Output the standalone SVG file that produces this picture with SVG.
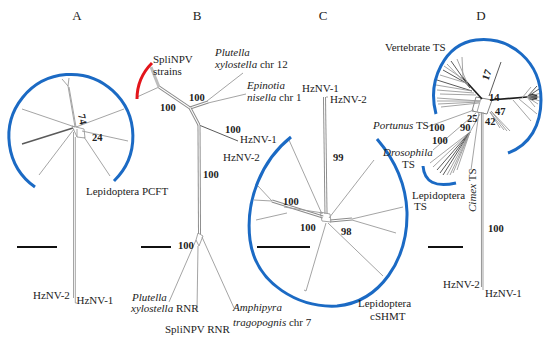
<svg xmlns="http://www.w3.org/2000/svg" width="550" height="344" viewBox="0 0 550 344">
<style>
text{font-family:"Liberation Serif","Times New Roman",serif;font-size:11px;fill:#222}
.ttl{font-size:13px}
.b{font-weight:bold;font-size:10.5px}
.i{font-style:italic}
.t{stroke:#9a9a9a;stroke-width:0.9;fill:none}
.d{stroke:#5a5a5a;stroke-width:1;fill:none}
.k{stroke:#1e1e1e;stroke-width:1.7;fill:none}
.o{stroke:#8a8a8a;stroke-width:3;fill:none}
.oi{stroke:#fff;stroke-width:1.1;fill:none}
.lg{stroke:#bdbdbd;stroke-width:3;fill:none}
.blue{stroke:#1b6ac4;stroke-width:3;fill:none}
.red{stroke:#e3151b;stroke-width:3;fill:none}
.sb{stroke:#111;stroke-width:2}
</style>
<rect width="550" height="344" fill="#fff"/>

<g id="connectors">
<!-- Panel A -->
<g id="treeA">
<line class="t" x1="75" y1="127" x2="68" y2="86"/>
<line class="t" x1="68" y1="86" x2="62" y2="79"/>
<line class="t" x1="68" y1="86" x2="69" y2="78"/>
<line class="t" x1="76" y1="127" x2="69" y2="87"/>
<line class="t" x1="75" y1="127" x2="22" y2="109"/>
<line class="t" x1="76" y1="127" x2="124" y2="109"/>
<line class="d" x1="73" y1="128" x2="22" y2="144" style="stroke-width:1.4"/>
<line class="t" x1="82" y1="131" x2="128" y2="141"/>
<line class="t" x1="74" y1="129" x2="39" y2="175"/>
<line class="t" x1="84" y1="137" x2="110" y2="176"/>
<polygon class="t" points="72,126 84,129 85,138 77,137"/>
<line class="t" x1="77" y1="129" x2="77" y2="137"/>
<line class="t" x1="73.5" y1="132" x2="73.5" y2="298"/>
<line class="t" x1="75.3" y1="137" x2="75.3" y2="303"/>
<line class="t" x1="75.3" y1="303" x2="77" y2="303"/>
</g>
<!-- Panel B -->
<g id="treeB">
<line class="t" x1="137" y1="97" x2="159" y2="87"/>
<line class="lg" x1="159" y1="87" x2="151" y2="67"/>
<line class="o" x1="159" y1="87" x2="190" y2="108"/>
<line class="oi" x1="159" y1="87" x2="190" y2="108"/>
<line class="o" x1="190" y1="108" x2="208" y2="102"/>
<line class="oi" x1="190" y1="108" x2="208" y2="102"/>
<line class="t" x1="207" y1="101" x2="243" y2="73"/>
<line class="t" x1="208" y1="103" x2="246" y2="94"/>
<line class="o" x1="190" y1="108" x2="199" y2="125"/>
<line class="oi" x1="190" y1="108" x2="199" y2="125"/>
<line class="d" x1="199" y1="125" x2="238" y2="141"/>
<line class="o" x1="199" y1="125" x2="199.5" y2="234"/>
<line class="oi" x1="199" y1="125" x2="199.5" y2="234"/>
<polyline class="t" points="198,233 203,236 199,246 196,240 198,233"/>
<line class="t" x1="196" y1="240" x2="169" y2="302"/>
<line class="t" x1="198" y1="246" x2="197" y2="310"/>
<line class="t" x1="202" y1="237" x2="234" y2="308"/>
</g>
<!-- Panel C -->
<g id="treeC">
<line class="o" x1="324.5" y1="97" x2="326" y2="214"/>
<line class="oi" x1="324.5" y1="97" x2="326" y2="214"/>
<line class="t" x1="326" y1="97" x2="328" y2="97"/>
<line class="t" x1="289" y1="140" x2="322" y2="214"/>
<line class="t" x1="374" y1="160" x2="329" y2="218"/>
<line class="o" x1="330" y1="221" x2="352" y2="219"/>
<line class="oi" x1="330" y1="221" x2="352" y2="219"/>
<line class="t" x1="352" y1="219" x2="403" y2="207"/>
<line class="t" x1="352" y1="220" x2="396" y2="233"/>
<line class="t" x1="328" y1="223" x2="383" y2="276"/>
<line class="t" x1="326" y1="223" x2="306" y2="291"/>
<line class="t" x1="306" y1="291" x2="304" y2="290"/>
<line class="o" x1="272" y1="201" x2="323" y2="217"/>
<line class="oi" x1="272" y1="201" x2="323" y2="217"/>
<line class="t" x1="284" y1="207" x2="323" y2="213"/>
<line class="t" x1="272" y1="201" x2="258" y2="186"/>
<line class="t" x1="272" y1="201" x2="254" y2="200"/>
<line class="t" x1="287" y1="213" x2="256" y2="220"/>
<polygon class="t" points="320,212 330,214 331,222 322,221"/>
</g>
<!-- Panel D -->
<g id="treeD">
<polygon class="t" points="476,97 492,100 487,114 472,111" style="stroke:#777"/>
<line class="t" x1="481" y1="98" x2="477" y2="112"/>
<line class="k" x1="482" y1="99" x2="462" y2="77"/>
<line class="t" x1="470" y1="88" x2="447" y2="64"/>
<line class="d" x1="470" y1="88" x2="451" y2="61"/>
<line class="t" x1="468" y1="85" x2="457" y2="59"/>
<line class="t" x1="463" y1="78" x2="462" y2="57"/>
<line class="d" x1="466" y1="83" x2="443" y2="70"/>
<line class="t" x1="466" y1="83" x2="440" y2="75"/>
<line class="t" x1="463" y1="79" x2="444" y2="66"/>
<line class="d" x1="472" y1="91" x2="437" y2="80"/>
<line class="t" x1="472" y1="91" x2="436" y2="85"/>
<line class="t" x1="474" y1="93" x2="437" y2="90"/>
<line class="t" x1="476" y1="95" x2="440" y2="94"/>
<line class="t" x1="480" y1="101" x2="437" y2="98"/>
<line class="t" x1="480" y1="101" x2="437" y2="101"/>
<line class="t" x1="479" y1="102" x2="438" y2="104"/>
<line class="t" x1="479" y1="103" x2="441" y2="107"/>
<line class="d" x1="489" y1="96" x2="501" y2="62"/>
<line class="k" x1="490" y1="100" x2="527" y2="97"/>
<ellipse cx="533" cy="97" rx="4.5" ry="3.2" fill="#333"/>
<line class="d" x1="527" y1="97" x2="537" y2="86"/>
<line class="d" x1="527" y1="97" x2="539" y2="89"/>
<line class="t" x1="527" y1="97" x2="541" y2="93"/>
<line class="t" x1="527" y1="97" x2="541" y2="97"/>
<line class="t" x1="527" y1="97" x2="540" y2="101"/>
<line class="t" x1="527" y1="97" x2="538" y2="104"/>
<line class="t" x1="527" y1="97" x2="535" y2="107"/>
<line class="t" x1="522" y1="98" x2="531" y2="87"/>
<line class="t" x1="519" y1="99" x2="537" y2="114"/>
<line class="t" x1="513" y1="100" x2="531" y2="121"/>
<line class="t" x1="490" y1="112" x2="500" y2="128"/>
<line class="t" x1="490" y1="112" x2="504" y2="130"/>
<line class="t" x1="491" y1="111" x2="507" y2="131"/>
<line class="t" x1="491" y1="111" x2="510" y2="131"/>
<line class="t" x1="474" y1="110" x2="427" y2="127"/>
<line class="t" x1="476" y1="113" x2="433" y2="150"/>
<line class="t" x1="480" y1="114" x2="470" y2="132"/>
<line class="t" x1="470" y1="132" x2="430" y2="163"/>
<line class="t" x1="470" y1="132" x2="433" y2="167"/>
<line class="d" x1="470" y1="132" x2="437" y2="170"/>
<line class="d" x1="470" y1="132" x2="440" y2="173"/>
<line class="d" x1="470" y1="132" x2="443" y2="175"/>
<line class="t" x1="470" y1="132" x2="447" y2="175"/>
<line class="t" x1="470" y1="132" x2="450" y2="175"/>
<line class="t" x1="470" y1="132" x2="453" y2="173"/>
<line class="t" x1="470" y1="132" x2="457" y2="170"/>
<line class="t" x1="479" y1="112" x2="471" y2="170"/>
<line class="t" x1="481.5" y1="112" x2="481.5" y2="287" style="stroke-width:1.1"/>
<line class="t" x1="483" y1="112" x2="483" y2="290"/>
</g>
</g>

<g id="groups">
<path id="arcA" class="blue" d="M35,187 A62,62 0 1 1 114,181"/>
<path id="arcB" class="red" d="M152,63 Q137,78 137,99"/>
<path id="arcC" class="blue" d="M291,137 C262,160 245,200 250,240 C256,285 300,308 337,306 C380,302 408,260 407,212 C406,185 395,160 377,139"/>
<path id="arcD" class="blue" d="M436,114 C427,80 445,44 476,40 C511,36 541,62 541,100 C541,125 530,145 508,153"/>
<path id="arcD2" class="blue" d="M423,166 Q425,190 456,183"/>
</g>

<g id="scalebars">
<line class="sb" x1="17" y1="247" x2="57" y2="247"/>
<line class="sb" x1="141" y1="247" x2="171" y2="247"/>
<line class="sb" x1="257" y1="247" x2="310" y2="247"/>
<line class="sb" x1="428" y1="247" x2="463" y2="247"/>
</g>

<g id="panelA">
<text class="ttl" x="77" y="20" text-anchor="middle">A</text>
<g id="labA74"><text class="b" transform="translate(79,120) rotate(78)" text-anchor="middle">74</text></g>
<g id="labA24"><text class="b" x="92" y="140.5">24</text></g>
<g id="nodeA-PCFT"><text x="86" y="195">Lepidoptera PCFT</text></g>
<g id="nodeA-HzNV2"><text x="33" y="298.5">HzNV-2</text></g>
<g id="nodeA-HzNV1"><text x="76.5" y="304">HzNV-1</text></g>
</g>

<g id="panelB">
<text class="ttl" x="197" y="20" text-anchor="middle">B</text>
<g id="nodeB-SpliNPV"><text x="153" y="63">SpliNPV</text><text x="153" y="75">strains</text></g>
<g id="nodeB-Px12"><text x="215" y="56" class="i">Plutella</text><text x="215" y="68"><tspan class="i">xylostella</tspan> chr 12</text></g>
<g id="nodeB-Epi"><text x="247" y="89" class="i">Epinotia</text><text x="247" y="101"><tspan class="i">nisella</tspan> chr 1</text></g>
<g id="nodeB-HzNV1"><text x="240" y="143">HzNV-1</text></g>
<g id="nodeB-HzNV2"><text x="223" y="161">HzNV-2</text></g>
<g id="nodeB-PxRNR"><text x="132" y="301" class="i">Plutella</text><text x="131" y="312"><tspan class="i">xylostella</tspan> RNR</text></g>
<g id="nodeB-SpRNR"><text x="165" y="333">SpliNPV RNR</text></g>
<g id="nodeB-Amph"><text x="233" y="311" class="i">Amphipyra</text><text x="233" y="326"><tspan class="i">tragopognis</tspan> chr 7</text></g>
<text class="b" x="160" y="111">100</text>
<text class="b" x="189" y="101">100</text>
<text class="b" x="225" y="133">100</text>
<text class="b" x="203" y="178">100</text>
<text class="b" x="178" y="249">100</text>
</g>

<g id="panelC">
<text class="ttl" x="323" y="20" text-anchor="middle">C</text>
<g id="nodeC-HzNV1"><text x="302" y="92">HzNV-1</text></g>
<g id="nodeC-HzNV2"><text x="330" y="103">HzNV-2</text></g>
<g id="nodeC-cSHMT"><text x="358" y="307">Lepidoptera</text><text x="370" y="320">cSHMT</text></g>
<text class="b" x="333" y="161">99</text>
<text class="b" x="283" y="205">100</text>
<text class="b" x="300" y="231">100</text>
<text class="b" x="341" y="235">98</text>
</g>

<g id="panelD">
<text class="ttl" x="481" y="20" text-anchor="middle">D</text>
<g id="nodeD-Vert"><text x="385" y="51">Vertebrate TS</text></g>
<g id="nodeD-Port"><text x="373" y="129"><tspan class="i">Portunus</tspan> TS</text></g>
<g id="nodeD-Dros"><text x="383" y="155.5" class="i">Drosophila</text><text x="402" y="168">TS</text></g>
<g id="nodeD-Lep"><text x="412" y="199">Lepidoptera</text><text x="414" y="210">TS</text></g>
<g id="nodeD-Cimex"><text transform="translate(476,212) rotate(-90)"><tspan class="i">Cimex</tspan> TS</text></g>
<g id="nodeD-HzNV2"><text x="443" y="288">HzNV-2</text></g>
<g id="nodeD-HzNV1"><text x="485" y="297">HzNV-1</text></g>
<text class="b" transform="translate(490,76) rotate(-70)" text-anchor="middle">17</text>
<text class="b" x="489" y="101">14</text>
<text class="b" x="495" y="114.5">47</text>
<text class="b" x="467" y="121.5">25</text>
<text class="b" x="485" y="124.5">42</text>
<text class="b" x="460" y="131">90</text>
<text class="b" x="429" y="131">100</text>
<text class="b" x="432" y="143.5">100</text>
<text class="b" x="488" y="232">100</text>
</g>
</svg>
